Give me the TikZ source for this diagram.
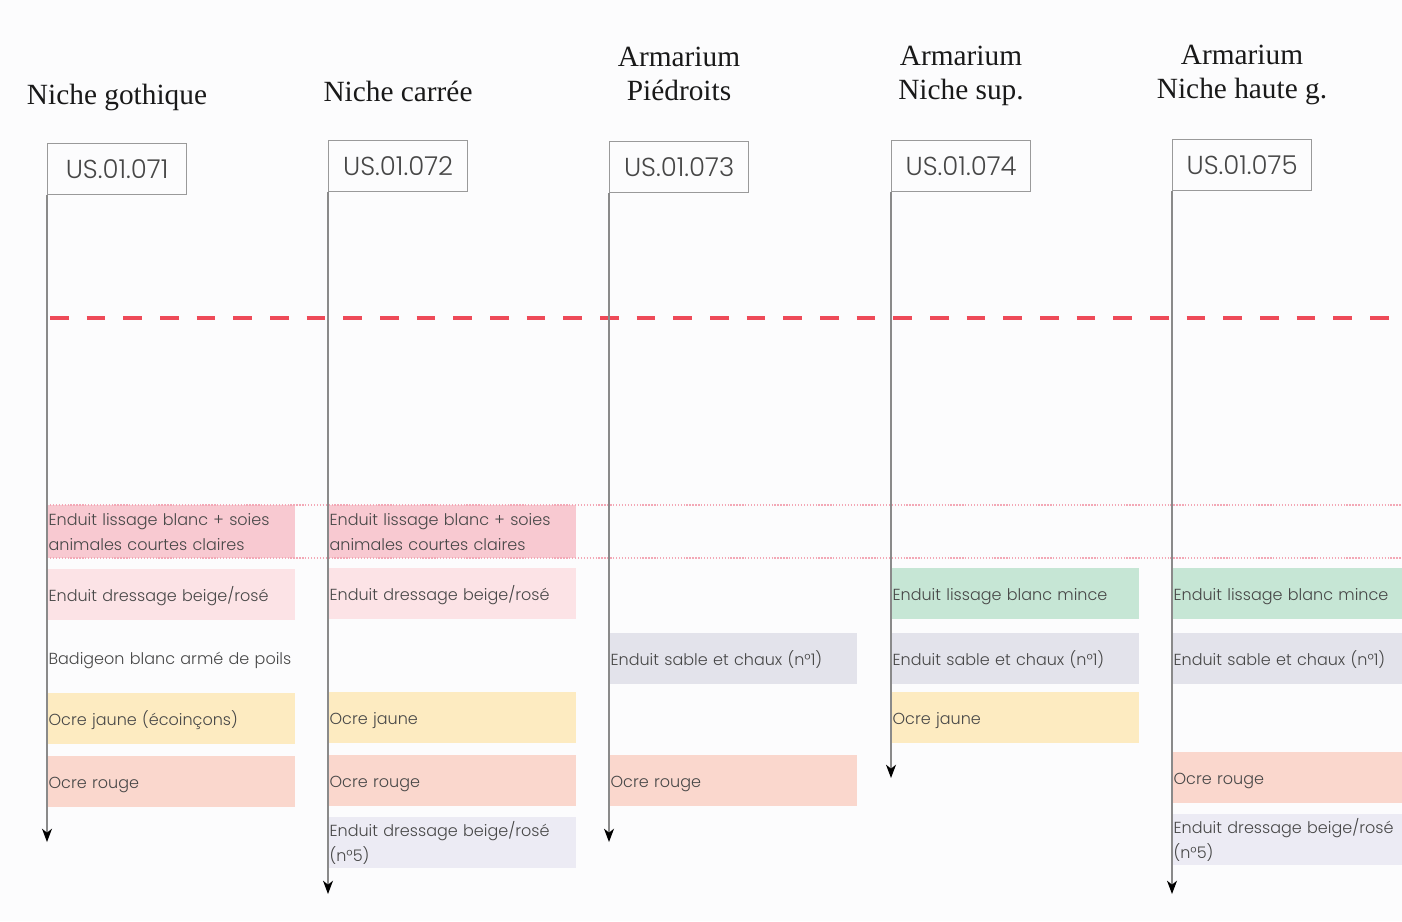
\documentclass[tikz,border=0pt]{standalone}
\usepackage{fontspec}
\setsansfont{Poppins}[UprightFont=* Light]
\newfontfamily\titlefont{Liberation Serif}
\usetikzlibrary{arrows.meta}
\definecolor{bg}{HTML}{FCFCFD}
\definecolor{txt}{HTML}{474747}
\definecolor{frame}{HTML}{9A9A9A}
\definecolor{axis}{HTML}{8A8A8A}
\definecolor{reddash}{HTML}{EE4A58}
\definecolor{pinkdot}{HTML}{F3A8B6}
\definecolor{cSoies}{HTML}{F8C9D1}
\definecolor{cDress}{HTML}{FCE3E6}
\definecolor{cJaune}{HTML}{FDEBC1}
\definecolor{cRouge}{HTML}{FAD7CD}
\definecolor{cLav}{HTML}{ECEBF4}
\definecolor{cSable}{HTML}{E3E3EB}
\definecolor{cVert}{HTML}{C6E6D5}
\begin{document}
\begin{tikzpicture}[x=0.75pt,y=-0.75pt,
  title/.style={anchor=north, inner sep=0pt, align=center, font=\titlefont\fontsize{22}{25.5}\selectfont, text=black!90},
  usbox/.style={anchor=north west, draw=frame, line width=0.9pt, minimum width=104.25pt, minimum height=38.25pt, inner sep=0pt, font=\sffamily\fontsize{19.5}{22}\selectfont, text=txt},
  layer/.style={anchor=north west, text width=184pt, minimum height=38.25pt, inner xsep=1pt, inner ysep=0pt, align=left, font=\sffamily\fontsize{12}{18.75}\selectfont, text=txt, text height=12pt, text depth=1.7pt},
  layer2/.style={anchor=north west, text width=184pt, minimum height=39.75pt, inner xsep=1pt, inner ysep=0pt, align=left, font=\sffamily\fontsize{12}{18.75}\selectfont, text=txt},
  axisline/.style={draw=axis, line width=0.9pt, -{Stealth[length=10pt,width=7.5pt,inset=3pt,black]}},
  dotline/.style={draw=pinkdot, line width=1pt, dash pattern=on 1pt off 1.2pt},
  sepline/.style={draw=reddash, line width=3pt, dash pattern=on 14pt off 13.5pt}]
\useasboundingbox (0,0) rectangle (1402,921);
\clip (0,0) rectangle (1402,921);
\fill[bg] (0,0) rectangle (1402,921);

% titles
\node[title] (t1) at (117,84) {Niche gothique};
\node[title] (t2) at (398,81) {Niche carrée};
\node[title] (t3) at (679,47) {Armarium\\Piédroits};
\node[title] (t4) at (961,46) {Armarium\\Niche sup.};
\node[title] (t5) at (1242,45) {Armarium\\Niche haute g.};

% US boxes
\node[usbox] (u1) at (47,143) {US.01.071};
\node[usbox] (u2) at (328,140) {US.01.072};
\node[usbox] (u3) at (609,141) {US.01.073};
\node[usbox] (u4) at (891,140) {US.01.074};
\node[usbox] (u5) at (1172,139) {US.01.075};

% column 1
\node[layer2, fill=cSoies] (a1) at (47,505) {Enduit lissage blanc + soies\\animales courtes claires};
\node[layer, fill=cDress] (a2) at (47,569) {Enduit dressage beige/rosé};
\node[layer] (a3) at (47,632) {Badigeon blanc armé de poils};
\node[layer, fill=cJaune] (a4) at (47,693) {Ocre jaune (écoinçons)};
\node[layer, fill=cRouge] (a5) at (47,756) {Ocre rouge};

% column 2
\node[layer2, fill=cSoies] (b1) at (328,505) {Enduit lissage blanc + soies\\animales courtes claires};
\node[layer, fill=cDress] (b2) at (328,568) {Enduit dressage beige/rosé};
\node[layer, fill=cJaune] (b4) at (328,692) {Ocre jaune};
\node[layer, fill=cRouge] (b5) at (328,755) {Ocre rouge};
\node[layer2, fill=cLav, minimum height=38.25pt] (b6) at (328,817) {Enduit dressage beige/rosé\\(n°5)};

% column 3
\node[layer, fill=cSable] (c3) at (609,633) {Enduit sable et chaux (n°1)};
\node[layer, fill=cRouge] (c5) at (609,755) {Ocre rouge};

% column 4
\node[layer, fill=cVert] (d2) at (891,568) {Enduit lissage blanc mince};
\node[layer, fill=cSable] (d3) at (891,633) {Enduit sable et chaux (n°1)};
\node[layer, fill=cJaune] (d4) at (891,692) {Ocre jaune};

% column 5
\node[layer, fill=cVert] (e2) at (1172,568) {Enduit lissage blanc mince};
\node[layer, fill=cSable] (e3) at (1172,633) {Enduit sable et chaux (n°1)};
\node[layer, fill=cRouge] (e5) at (1172,752) {Ocre rouge};
\node[layer2, fill=cLav, minimum height=38.25pt] (e6) at (1172,814) {Enduit dressage beige/rosé\\(n°5)};

% horizontal markers
\coordinate (dA) at (47,505);
\coordinate (dAe) at (1402,505);
\coordinate (dB) at (47,558);
\coordinate (dBe) at (1402,558);
\draw[dotline] (dA) -- (dAe);
\draw[dotline] (dB) -- (dBe);
\coordinate (rs) at (50,318);
\coordinate (re) at (1402,318);
\draw[sepline] (rs) -- (re);

% time axes
\coordinate (z1) at (47,842);
\coordinate (z2) at (328,894);
\coordinate (z3) at (609,842);
\coordinate (z4) at (891,778);
\coordinate (z5) at (1172,894);
\draw[axisline] (u1.south west) -- (z1);
\draw[axisline] (u2.south west) -- (z2);
\draw[axisline] (u3.south west) -- (z3);
\draw[axisline] (u4.south west) -- (z4);
\draw[axisline] (u5.south west) -- (z5);
\end{tikzpicture}
\end{document}
